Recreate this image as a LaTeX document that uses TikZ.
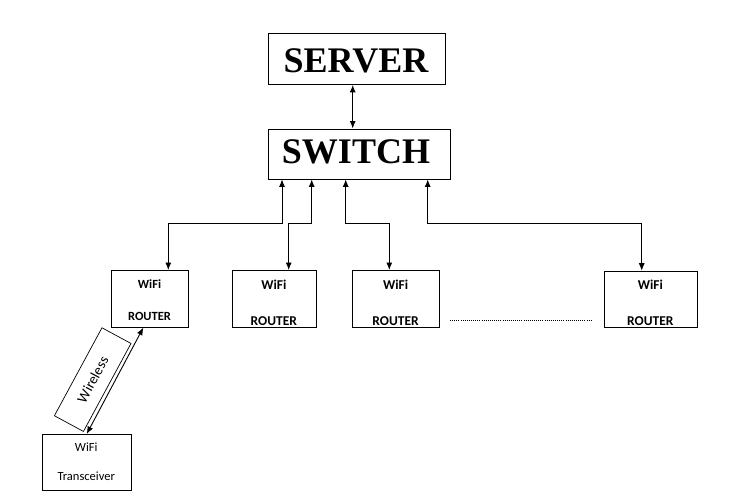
\documentclass[tikz,border=0pt]{standalone}
\usepackage{fontspec}
\setmainfont{Carlito}
\newfontfamily\serifb{Liberation Serif}
\usetikzlibrary{arrows.meta}
\begin{document}
\begin{tikzpicture}[x=1pt,y=-1pt,
  box/.style={draw, line width=0.9pt, inner sep=0pt, anchor=north west},
  dbl/.style={{Latex[length=7.5pt,width=6pt]}-{Latex[length=7.5pt,width=6pt]}, line width=0.9pt},
  bigtxt/.style={anchor=base, inner sep=0pt, font=\serifb\bfseries\fontsize{36}{36}\selectfont},
  rtxt/.style={anchor=base, inner sep=0pt, font=\bfseries\fontsize{13.5}{13.5}\selectfont},
  ttxt/.style={anchor=base, inner sep=0pt, font=\fontsize{12.5}{12.5}\selectfont}]
\useasboundingbox (0,0) rectangle (738,500);

% boxes
\node[box, minimum width=177pt, minimum height=51pt] (srv) at (267.5,33) {};
\node[box, minimum width=182pt, minimum height=50pt] (sw) at (268.3,128.5) {};
\node[box, minimum width=77.6pt, minimum height=56.7pt] (r1) at (110.7,270) {};
\node[box, minimum width=84.3pt, minimum height=57pt] (r2) at (231.7,270) {};
\node[box, minimum width=86.7pt, minimum height=57pt] (r3) at (352.3,270) {};
\node[box, minimum width=92.7pt, minimum height=56pt] (r4) at (604,270.7) {};
\node[box, minimum width=89pt, minimum height=56pt] (tr) at (41.7,434) {};

% texts
\node[bigtxt] (srvt) at (356,72.5) {SERVER};
\node[bigtxt] (swt) at (356,163) {SWITCH};
\node[rtxt, font=\bfseries\fontsize{12.5}{12.5}\selectfont] (r1a) at (149.5,288.3) {WiFi};
\node[rtxt, font=\bfseries\fontsize{12.5}{12.5}\selectfont] (r1b) at (149.5,320) {ROUTER};
\node[rtxt] (r2a) at (273.8,289.3) {WiFi};
\node[rtxt] (r2b) at (273.8,325.5) {ROUTER};
\node[rtxt] (r3a) at (395.6,289.3) {WiFi};
\node[rtxt] (r3b) at (395.6,325.5) {ROUTER};
\node[rtxt] (r4a) at (650.3,289.3) {WiFi};
\node[rtxt] (r4b) at (650.3,325.5) {ROUTER};
\node[ttxt] (tra) at (86.2,451.7) {WiFi};
\node[ttxt] (trb) at (86.2,480) {Transceiver};

% connectors
\draw[dbl] ([xshift=85.2pt]srv.south west) -- ([xshift=84.4pt]sw.north west);
\draw[dbl] ([xshift=13.7pt]sw.south west) -- ++(0,44) -| ([xshift=57.6pt]r1.north west);
\draw[dbl] ([xshift=43.4pt]sw.south west) -- ++(0,44) -| ([xshift=57pt]r2.north west);
\draw[dbl] ([xshift=77.4pt]sw.south west) -- ++(0,44) -| ([xshift=37pt]r3.north west);
\draw[dbl] ([xshift=159.4pt]sw.south west) -- ++(0,44) -| ([xshift=37.7pt]r4.north west);
\draw[dbl] ([xshift=32.6pt]r1.south west) -- ([xshift=45pt]tr.north west);

% wireless label box
\node[draw, line width=0.7pt, rotate=61.6, minimum width=100pt, minimum height=33pt, inner sep=0pt,
      font=\fontsize{14.5}{14.5}\selectfont] (wl) at (92.7,379.6) {Wireless};

% dotted ellipsis
\draw[line width=1pt, dash pattern=on 1pt off 1.1pt] (450,320) -- (592,320);
\end{tikzpicture}
\end{document}
